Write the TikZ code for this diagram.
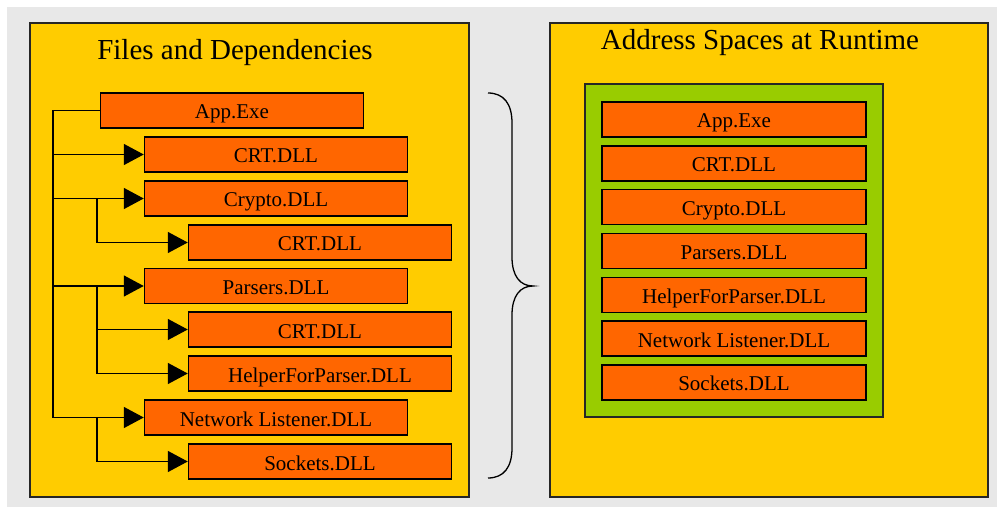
\documentclass[tikz,border=0pt]{standalone}
\usepackage{fontspec}
\setmainfont{Liberation Serif}
\usetikzlibrary{arrows.meta,calc}

\definecolor{bggray}{HTML}{E8E8E8}
\definecolor{panelyellow}{HTML}{FFCC00}
\definecolor{modorange}{HTML}{FF6600}
\definecolor{spacegreen}{HTML}{99CC00}

\tikzset{
  panel/.style={draw=black!85, line width=1.2pt, fill=panelyellow},
  module/.style={draw=black, line width=1.5pt, fill=modorange, rectangle,
    minimum width=263pt, minimum height=35pt, inner sep=0pt,
    text height=17pt, text depth=0pt,
    font=\fontsize{21}{24}\selectfont},
  paneltitle/.style={anchor=base, inner sep=0pt, font=\fontsize{29}{32}\selectfont},
  link/.style={line width=1.6pt, draw=black},
  deparrow/.style={link, -{Triangle[length=20pt,width=21pt]}},
}

\begin{document}
\begin{tikzpicture}[x=1pt,y=-1pt]
  \useasboundingbox (0,0) rectangle (997,508);
  \fill[white] (0,0) rectangle (997,508);
  \fill[bggray] (7,7) rectangle (997,507);

  % left panel: files and their dependencies
  \draw[panel] (30,23) rectangle (469,497);
  \node[paneltitle] (ltitle) at (235,60) {Files and Dependencies};

  \node[module] (app)     at (232,110.5) {App.Exe};
  \node[module] (crtA)    at (276,154.5) {CRT.DLL};
  \node[module] (crypto)  at (276,198.5) {Crypto.DLL};
  \node[module] (crtB)    at (320,242.5) {CRT.DLL};
  \node[module] (parsers) at (276,286)   {Parsers.DLL};
  \node[module] (crtC)    at (320,329.5) {CRT.DLL};
  \node[module] (helper)  at (320,373.5) {HelperForParser.DLL};
  \node[module] (net)     at (276,417.5) {Network Listener.DLL};
  \node[module] (sockets) at (320,461.5) {Sockets.DLL};

  % main trunk from App.Exe
  \coordinate (trunk) at (53,0);
  \draw[link] (app.west) -| (trunk |- net.west);
  \foreach \n in {crtA,crypto,parsers,net}
    \draw[deparrow] (trunk |- \n.west) -- (\n.west);

  % second-level dependencies
  \coordinate (sub) at (97,0);
  \draw[deparrow] (sub |- crypto.west) |- (crtB.west);
  \draw[link] (sub |- parsers.west) -- (sub |- helper.west);
  \draw[deparrow] (sub |- crtC.west) -- (crtC.west);
  \draw[deparrow] (sub |- parsers.west) |- (helper.west);
  \draw[deparrow] (sub |- net.west) |- (sockets.west);

  % curly brace between the panels
  \draw[line width=1.3pt]
    (488,93) .. controls (504,93) and (512,104) .. (512,123)
    -- (512,257) .. controls (512,276) and (520,286) .. (533,286)
    .. controls (520,286) and (512,296) .. (512,315)
    -- (512,448) .. controls (512,467) and (504,478) .. (488,478);

  % right panel: loaded address space
  \draw[panel] (550,23) rectangle (988,497);
  \node[paneltitle] (rtitle) at (760,50) {Address Spaces at Runtime};
  \draw[draw=black!85, line width=1.3pt, fill=spacegreen] (585,84) rectangle (883,417);

  \foreach \i/\name/\txt in {0/rApp/App.Exe, 1/rCrt/CRT.DLL, 2/rCrypto/Crypto.DLL,
      3/rParsers/Parsers.DLL, 4/rHelper/HelperForParser.DLL,
      5/rNet/Network Listener.DLL, 6/rSockets/Sockets.DLL}
    \node[module, minimum width=264pt] (\name) at (734,{119.5+43.83*\i}) {\txt};
\end{tikzpicture}
\end{document}
